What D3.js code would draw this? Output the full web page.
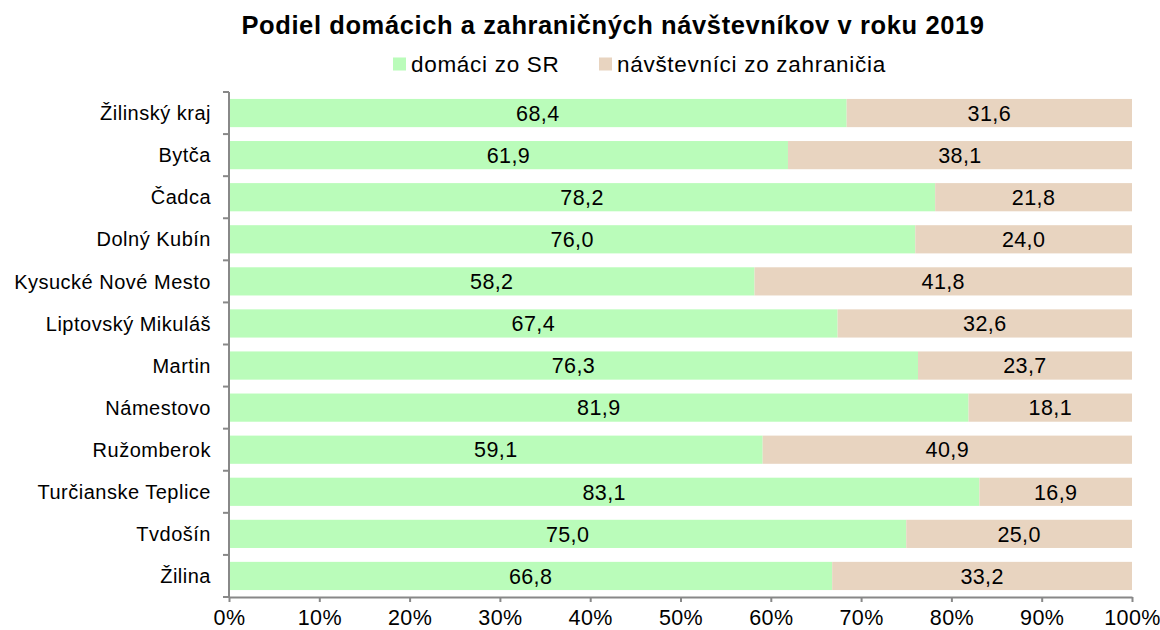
<!DOCTYPE html>
<html>
<head>
<meta charset="utf-8">
<script src="https://cdn.jsdelivr.net/npm/d3@7"></script>
<style>
  body { margin: 0; background: #fff; }
  svg { font-family: "Liberation Sans", Arial, sans-serif; }
</style>
</head>
<body>
<svg id="chart" width="1160" height="630"></svg>
<script>
// chart data
const categories = ["Žilinský kraj", "Bytča", "Čadca", "Dolný Kubín", "Kysucké Nové Mesto",
  "Liptovský Mikuláš", "Martin", "Námestovo", "Ružomberok", "Turčianske Teplice", "Tvdošín", "Žilina"];
const domestic = [68.4, 61.9, 78.2, 76.0, 58.2, 67.4, 76.3, 81.9, 59.1, 83.1, 75.0, 66.8];
const foreign = [31.6, 38.1, 21.8, 24.0, 41.8, 32.6, 23.7, 18.1, 40.9, 16.9, 25.0, 33.2];
const seriesNames = ["domáci zo SR", "návštevníci zo zahraničia"];
const xTicks = [0, 10, 20, 30, 40, 50, 60, 70, 80, 90, 100];

const colors = ["#bafcba", "#e8d4c0"];
const axisColor = "#888";

let svg = d3.select("#chart");

let margin = {left: 229, right: 28, top: 92, bottom: 33};
let width = 1160, height = 630;

let x = d3.scaleLinear().domain([0, 100]).range([margin.left, width - margin.right]);
let y = d3.scaleBand().domain(categories).range([margin.top, height - margin.bottom]).paddingInner(0.33).paddingOuter(0.165);

let rows = categories.map((c, i) => ({cat: c, vals: [domestic[i], foreign[i]]}));

// bars
let gBars = svg.append("g");
rows.forEach(function(r) {
    let start = 0;
    r.vals.forEach(function(v, j) {
        gBars.append("rect")
            .attr("x", x(start))
            .attr("y", y(r.cat))
            .attr("width", x(start + v) - x(start))
            .attr("height", y.bandwidth())
            .attr("fill", colors[j]);
        gBars.append("text")
            .attr("x", x(start + v / 2))
            .attr("y", y(r.cat) + y.bandwidth() / 2)
            .attr("dy", "0.36em")
            .attr("text-anchor", "middle")
            .style("font-size", "21.5px")
            .style("letter-spacing", "0.4px")
            .attr("fill", "#000")
            .text(v.toFixed(1).replace(".", ","));
        start += v;
    });
});

// x axis
let xAxis = svg.append("g")
    .attr("transform", "translate(0," + (height - margin.bottom) + ")")
    .call(d3.axisBottom(x).tickValues(xTicks).tickSize(5).tickSizeOuter(0).tickFormat(d => d + "%"));
xAxis.select(".domain").attr("stroke", axisColor).attr("stroke-width", 2);
xAxis.selectAll(".tick line").attr("stroke", axisColor).attr("stroke-width", 2);
xAxis.selectAll("text")
    .style("font-size", "21.5px")
    .style("letter-spacing", "0.4px")
    .attr("fill", "#000")
    .attr("y", 8)
    .attr("dy", "0.95em");

// y axis with ticks at band boundaries
let step = y.step();
let yAxis = svg.append("g");
yAxis.append("line")
    .attr("x1", margin.left).attr("x2", margin.left)
    .attr("y1", margin.top).attr("y2", height - margin.bottom)
    .attr("stroke", axisColor).attr("stroke-width", 2);
d3.range(categories.length + 1).forEach(function(i) {
    yAxis.append("line")
        .attr("x1", margin.left - 6).attr("x2", margin.left)
        .attr("y1", margin.top + i * step).attr("y2", margin.top + i * step)
        .attr("stroke", axisColor).attr("stroke-width", 2);
});
categories.forEach(function(c) {
    yAxis.append("text")
        .attr("x", margin.left - 18)
        .attr("y", y(c) + y.bandwidth() / 2)
        .attr("dy", "0.36em")
        .attr("text-anchor", "end")
        .style("font-size", "20px")
        .style("letter-spacing", "0.5px")
        .text(c);
});

// title
svg.append("text")
    .attr("x", 613).attr("y", 34)
    .attr("text-anchor", "middle")
    .style("font-size", "25.5px").style("font-weight", "bold")
    .style("letter-spacing", "0.6px")
    .text("Podiel domácich a zahraničných návštevníkov v roku 2019");

// legend
let legendX = [393, 599];
seriesNames.forEach(function(n, i) {
    let g = svg.append("g").attr("transform", "translate(" + legendX[i] + ",64)");
    g.append("rect").attr("x", 0).attr("y", -6.5).attr("width", 13).attr("height", 13).attr("fill", colors[i]);
    g.append("text").attr("x", 18).attr("y", 7.5).style("font-size", "22.5px")
        .style("letter-spacing", "0.7px").text(n);
});
</script>
</body>
</html>
